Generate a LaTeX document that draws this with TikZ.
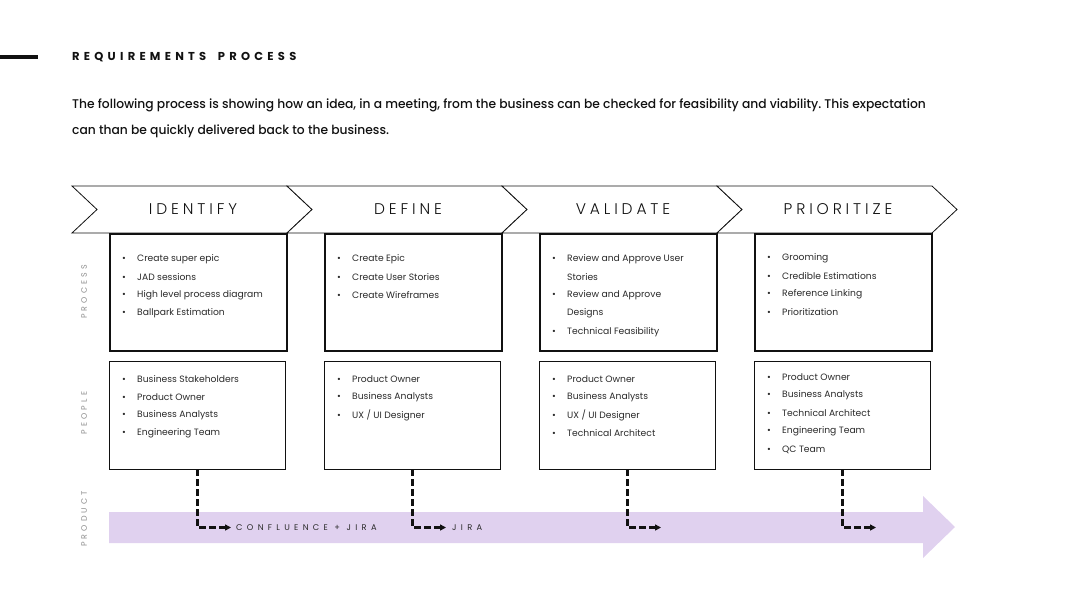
\documentclass[tikz,border=0pt]{standalone}
\usepackage{fontspec}
\setmainfont{Poppins}
\newfontfamily\popmed{Poppins Medium}[FakeStretch=0.975]
\newfontfamily\popbold{Poppins}[LetterSpace=37]
\newfontfamily\poplight{Poppins Light}[LetterSpace=25]
\newfontfamily\popsmall{Poppins}[LetterSpace=40]
\newfontfamily\popwide{Poppins}[LetterSpace=52]
\usetikzlibrary{arrows.meta}
\definecolor{band}{HTML}{E0D1EF}
\definecolor{ink}{HTML}{111111}
\definecolor{soft}{HTML}{2A2A2A}
\definecolor{side}{HTML}{8C8C8C}
\frenchspacing
\begin{document}
\begin{tikzpicture}[x=1pt,y=-1pt,
  chev/.style={draw=ink,line width=0.8pt,fill=white},
  chevlabel/.style={font=\poplight\fontsize{15.5}{17}\selectfont,text=ink,inner sep=0},
  procbox/.style={draw=ink,line width=1.8pt,fill=white,anchor=north west,
    minimum width=177pt,minimum height=117pt,inner sep=0},
  peoplebox/.style={draw=ink,line width=0.9pt,fill=white,anchor=north west,
    minimum width=176pt,minimum height=108pt,inner sep=0},
  itemtxt/.style={anchor=west,inner sep=0,text=soft,font=\fontsize{9.2}{11}\selectfont},
  sidelabel/.style={rotate=90,inner sep=0,text=side,font=\popsmall\fontsize{7.9}{9}\selectfont},
  feed/.style={draw=ink,line width=2.2pt,dash pattern=on 6.5pt off 3.5pt,
    -{Triangle[length=6pt,width=6pt]}},
  feedlabel/.style={anchor=west,inner sep=0,text=soft,font=\popwide\fontsize{8.3}{10}\selectfont}]

\useasboundingbox (0,0) rectangle (1080,608);

% heading
\fill[ink] (0,54.5) rectangle (38,58.5);
\node[anchor=west,inner sep=0,text=ink,font=\popbold\bfseries\fontsize{11.5}{13}\selectfont]
  (title) at (72,57) {REQUIREMENTS\hspace{5pt} PROCESS};
\node[anchor=west,inner sep=0,text=ink,font=\popmed\fontsize{12.6}{14}\selectfont]
  (intro1) at (72,105.5) {The following process is showing how an idea, in a meeting, from the business can be checked for feasibility and viability. This expectation};
\node[anchor=west,inner sep=0,text=ink,font=\popmed\fontsize{12.6}{14}\selectfont]
  (intro2) at (72,131.5) {can than be quickly delivered back to the business.};

% product band
\fill[band] (109,512) -- (923,512) -- (923,496) -- (955,527) -- (923,558) -- (923,543) -- (109,543) -- cycle;

% phase chevrons
\foreach \x/\lab [count=\i] in {72/IDENTIFY,287/DEFINE,502/VALIDATE,717/PRIORITIZE}{
  \draw[chev] (\x,186) -- ({\x+215},186) -- ({\x+240},209.5) -- ({\x+215},233)
    -- (\x,233) -- ({\x+25},209.5) -- cycle;
  \node[chevlabel] (phase-\i) at ({\x+121},209.5) {\lab};
}

% process and people boxes
\foreach \i in {1,...,4}{
  \node[procbox] (proc-\i) at ({109+215*(\i-1)},233) {};
  \node[peoplebox] (peop-\i) at ({109+215*(\i-1)},360.5) {};
}

% side labels
\node[sidelabel] (lab-proc) at (84,292) {PROCESS};
\node[sidelabel] (lab-peop) at (84,413) {PEOPLE};
\node[sidelabel] (lab-prod) at (84,519) {PRODUCT};

% bullet lines: \bl{name}{x}{y}{text}, \bc{name}{x}{y}{text} continues an item
\newcommand\bl[4]{\node[itemtxt] (#1) at (#2,#3) {\makebox[15pt][l]{•}#4};}
\newcommand\bc[4]{\node[itemtxt] (#1) at ({#2+15},#3) {#4};}

\bl{a1}{122}{259}{Create super epic}
\bl{a2}{122}{277}{JAD sessions}
\bl{a3}{122}{295}{High level process diagram}
\bl{a4}{122}{313}{Ballpark Estimation}

\bl{b1}{337}{259}{Create Epic}
\bl{b2}{337}{277}{Create User Stories}
\bl{b3}{337}{295}{Create Wireframes}

\bl{c1}{552}{259}{Review and Approve User}
\bc{c2}{552}{277}{Stories}
\bl{c3}{552}{295}{Review and Approve}
\bc{c4}{552}{313}{Designs}
\bl{c5}{552}{332}{Technical Feasibility}

\bl{d1}{767}{258}{Grooming}
\bl{d2}{767}{276}{Credible Estimations}
\bl{d3}{767}{294}{Reference Linking}
\bl{d4}{767}{312}{Prioritization}

\bl{e1}{122}{379}{Business Stakeholders}
\bl{e2}{122}{397}{Product Owner}
\bl{e3}{122}{415}{Business Analysts}
\bl{e4}{122}{433}{Engineering Team}

\bl{f1}{337}{379}{Product Owner}
\bl{f2}{337}{397}{Business Analysts}
\bl{f3}{337}{415}{UX / UI Designer}

\bl{g1}{552}{379}{Product Owner}
\bl{g2}{552}{397}{Business Analysts}
\bl{g3}{552}{415}{UX / UI Designer}
\bl{g4}{552}{433}{Technical Architect}

\bl{h1}{767}{377}{Product Owner}
\bl{h2}{767}{395}{Business Analysts}
\bl{h3}{767}{413}{Technical Architect}
\bl{h4}{767}{431}{Engineering Team}
\bl{h5}{767}{450}{QC Team}

% hand-offs into the product band
\foreach \i in {1,...,4}{
  \coordinate (out-\i) at ({197+215*(\i-1)+34},527.5);
  \draw[feed] (peop-\i.south) |- (out-\i);
}
\node[feedlabel] (tool-1) at (236,528) {CONFLUENCE + JIRA};
\node[feedlabel] (tool-2) at (452,528) {JIRA};

\end{tikzpicture}
\end{document}
